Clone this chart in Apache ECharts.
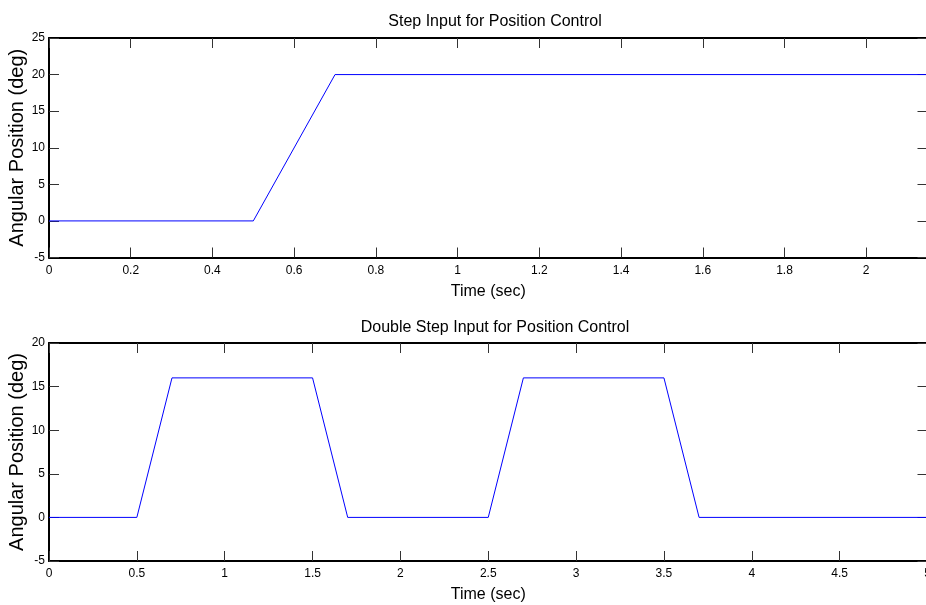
<!DOCTYPE html>
<html><head><meta charset="utf-8">
<script src="https://cdn.jsdelivr.net/npm/echarts@6/dist/echarts.min.js"></script>
<style>html,body{margin:0;padding:0;background:#fff}#c{width:926px;height:605px}</style>
</head><body><div id="c"></div>
<script>
// Top plot: step input
var stepTime = [0, 0.5, 0.7, 2.15];
var stepAngle = [0, 0, 20, 20];
// Bottom plot: double step input
var dblTime = [0, 0.5, 0.7, 1.5, 1.7, 2.5, 2.7, 3.5, 3.7, 5];
var dblAngle = [0, 0, 16, 16, 0, 0, 16, 16, 0, 0];

var titles = ['Step Input for Position Control', 'Double Step Input for Position Control'];
var xName = 'Time (sec)';
var yName = 'Angular Position (deg)';

function pairs(xs, ys){ return xs.map(function(x,i){ return [x, ys[i]]; }); }

var FONT = '"Liberation Sans", Arial, sans-serif';
var tickStyle = {show:true, inside:true, length:10, lineStyle:{color:'#333', width:1}};
var lineStyle = {color:'#000', width:2};

var grids = [
  {left:49, right:-1.5, top:38, height:219.5, outerBoundsMode:'none', containLabel:false},
  {left:49, right:-1.5, top:343, height:218, outerBoundsMode:'none', containLabel:false}
];
var xCfg = [{min:0, max:2.15, interval:0.2}, {min:0, max:5, interval:0.5}];
var yCfg = [{min:-5, max:25, interval:5}, {min:-5, max:20, interval:5}];

var xAxes = [], yAxes = [], series = [];
for (var g = 0; g < 2; g++) {
  xAxes.push({type:'value', gridIndex:g, position:'bottom', min:xCfg[g].min, max:xCfg[g].max, interval:xCfg[g].interval,
    axisLine:{show:true, onZero:false, lineStyle:lineStyle}, axisTick:tickStyle, splitLine:{show:false},
    axisLabel:{color:'#000', fontFamily:FONT, fontSize:12, margin:7, showMaxLabel:g===1, formatter:function(v){return String(+v.toFixed(2));}},
    name:xName, nameLocation:'middle', nameGap:26, nameMoveOverlap:false, nameTextStyle:{color:'#000', fontFamily:FONT, fontSize:16}});
  xAxes.push({type:'value', gridIndex:g, position:'top', min:xCfg[g].min, max:xCfg[g].max, interval:xCfg[g].interval,
    axisLine:{show:true, onZero:false, lineStyle:lineStyle}, axisTick:tickStyle, splitLine:{show:false}, axisLabel:{show:false}});
  yAxes.push({type:'value', gridIndex:g, position:'left', min:yCfg[g].min, max:yCfg[g].max, interval:yCfg[g].interval,
    axisLine:{show:true, onZero:false, lineStyle:lineStyle}, axisTick:tickStyle, splitLine:{show:false},
    axisLabel:{color:'#000', fontFamily:FONT, fontSize:12, margin:4},
    name:yName, nameLocation:'middle', nameGap:22, nameMoveOverlap:false, nameTextStyle:{color:'#000', fontFamily:FONT, fontSize:20}});
  yAxes.push({type:'value', gridIndex:g, position:'right', min:yCfg[g].min, max:yCfg[g].max, interval:yCfg[g].interval,
    axisLine:{show:true, onZero:false, lineStyle:lineStyle}, axisTick:tickStyle, splitLine:{show:false}, axisLabel:{show:false}});
}
series.push({type:'line', xAxisIndex:0, yAxisIndex:0, data:pairs(stepTime, stepAngle), showSymbol:false, symbol:'none',
  lineStyle:{color:'#0000ff', width:1}, animation:false});
series.push({type:'line', xAxisIndex:2, yAxisIndex:2, data:pairs(dblTime, dblAngle), showSymbol:false, symbol:'none',
  lineStyle:{color:'#0000ff', width:1}, animation:false});

var chart = echarts.init(document.getElementById('c'), null, {renderer:'canvas'});
chart.setOption({
  animation:false,
  backgroundColor:'#fff',
  title:[
    {text:titles[0], left:490, top:9, textAlign:'center', textStyle:{color:'#000', fontFamily:FONT, fontSize:16, fontWeight:'normal'}},
    {text:titles[1], left:490, top:315, textAlign:'center', textStyle:{color:'#000', fontFamily:FONT, fontSize:16, fontWeight:'normal'}}
  ],
  grid:grids, xAxis:xAxes, yAxis:yAxes, series:series
});
</script></body></html>
